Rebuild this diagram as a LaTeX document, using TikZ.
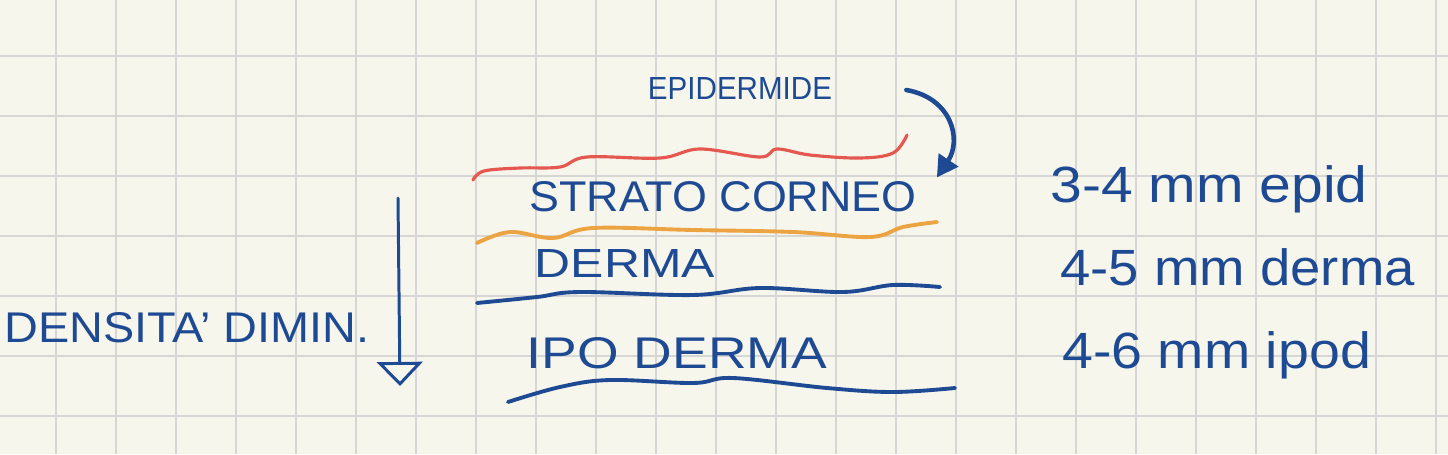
\documentclass[tikz,border=0pt]{standalone}
\usepackage{fontspec}
\setmainfont{Liberation Sans}
\usetikzlibrary{arrows.meta,calc}
\definecolor{paper}{RGB}{247,246,236}
\definecolor{gridc}{RGB}{214,214,212}
\definecolor{ink}{RGB}{30,74,148}
\definecolor{redink}{RGB}{228,88,80}
\definecolor{orangeink}{RGB}{236,163,66}
\newlength\px \setlength\px{0.02cm}
\begin{document}
\begin{tikzpicture}[x=0.02cm,y=-0.02cm,
  hand/.style={inner sep=0pt, text=ink},
  small/.style={hand, anchor=base west, font=\fontsize{29}{29}\selectfont},
  wave/.style={line width=2.2pt, line cap=round, line join=round},
  gridline/.style={gridc, line width=1.1pt},
  inkarrow/.style={ink, line cap=round},
]
\fill[paper] (0,0) rectangle (1448,454);
\useasboundingbox (0,0) rectangle (1448,454);
\foreach \x in {56,116,...,1436} \draw[gridline] (\x,0) -- (\x,454);
\foreach \y in {56,116,...,416} \draw[gridline] (0,\y) -- (1448,\y);

% layer boundaries
\draw[wave, redink, line width=1.8pt] plot[smooth, tension=0.6] coordinates
  {(473,180) (484,171) (520,168) (560,167) (587,157) (660,158) (700,149) (760,157) (777,149) (810,155) (860,158) (893,153) (907,135)};
\draw[wave, orangeink] plot[smooth, tension=0.6] coordinates
  {(477,243) (510,232) (553,238) (593,228) (693,230) (793,232) (870,237) (903,227) (937,222)};
\draw[wave, ink] plot[smooth, tension=0.6] coordinates
  {(477,303) (537,297) (580,292) (693,295) (760,288) (843,292) (893,285) (940,287)};
\draw[wave, ink] plot[smooth, tension=0.6] coordinates
  {(508,402) (560,387) (610,380) (693,383) (733,378) (827,388) (893,392) (955,388)};

% labels
\node[hand] (epidermide) at (740,88) {\resizebox{184\px}{22\px}{EPIDERMIDE}};
\node[hand] (strato) at (723,197) {\resizebox{387\px}{30\px}{STRATO CORNEO}};
\node[hand] (derma) at (625,263) {\resizebox{180\px}{28\px}{DERMA}};
\node[hand] (ipoderma) at (677,353) {\resizebox{300\px}{31\px}{IPO DERMA}};
\node[hand] (densita) at (187,328) {\resizebox{365\px}{30\px}{DENSITA' DIMIN.}};

\node[small] (m1) at (1050,202) {\scalebox{1.12}[1]{3-4 mm epid}};
\node[small] (m2) at (1060,285) {\scalebox{1.07}[1]{4-5 mm derma}};
\node[small] (m3) at (1062,368) {\scalebox{1.09}[1]{4-6 mm ipod}};

% arrows
\coordinate (epiA) at ($(epidermide.east)+(74,2)$);
\coordinate (epiB) at ($(strato.north east)+(20,-4)$);
\draw[inkarrow, line width=2.6pt, -{Triangle[length=12pt,width=13pt]}]
  (epiA) .. controls (952,98) and (962,140) .. (epiB);

\coordinate (densTop) at (398,198);
\coordinate (densTip) at (400,386);
\draw[inkarrow, line width=1.7pt, -{Triangle[open,length=13.7pt,width=26pt]}]
  (densTop) -- (densTip);
\end{tikzpicture}
\end{document}
